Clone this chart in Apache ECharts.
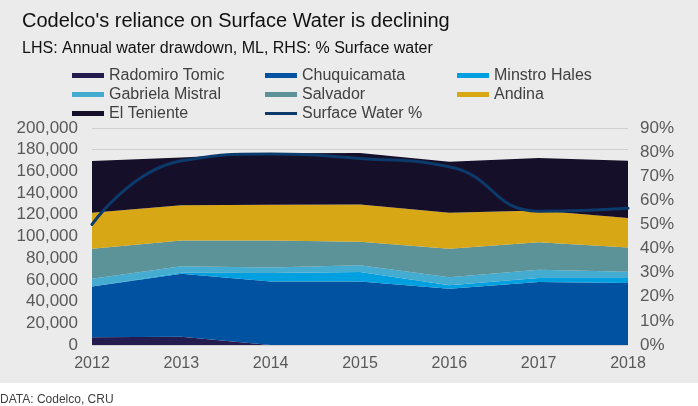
<!DOCTYPE html>
<html>
<head>
<meta charset="utf-8">
<script src="https://cdn.jsdelivr.net/npm/echarts@6/dist/echarts.min.js"></script>
<style>
  html, body { margin: 0; padding: 0; background: #fff; }
  #panel { position: absolute; left: 0; top: 0; width: 698px; height: 383px; background: #ebebeb; }
  #chart { position: absolute; left: 0; top: 0; width: 698px; height: 406px; }
</style>
</head>
<body>
<div id="panel"></div>
<div id="chart"></div>
<script>
var years = ['2012', '2013', '2014', '2015', '2016', '2017', '2018'];
var radomiroTomic = [7100, 7700, 0, 0, 0, 0, 0];
var chuquicamata = [46900, 58000, 58600, 58600, 51900, 58000, 57100];
var minstroHales = [0, 1000, 7700, 8700, 3100, 3700, 4600];
var gabrielaMistral = [7100, 5800, 5200, 6100, 7400, 7700, 5900];
var salvador = [27500, 23800, 24700, 21700, 26300, 25300, 22200];
var andina = [33300, 32400, 33000, 34300, 33300, 29300, 27200];
var elTeniente = [47800, 44200, 47500, 47500, 46900, 48400, 52800];
var surfaceWater = [50, 76.4, 79.2, 77.4, 73.9, 55.5, 56.7];

var colors = {
  rt: '#241c4e',
  chuqui: '#0152a1',
  mh: '#009fe0',
  gm: '#45acd1',
  sal: '#5b9399',
  andina: '#d8a715',
  et: '#150f2a',
  sw: '#0b3a6b'
};

// thin bar inside the 32x5 legend box (tiny corner specks keep the box size)
var lineIcon = 'path://M0,0L1,0L1,0.01ZM0,1H32V4H0ZM31,5L32,5L32,4.99Z';

function area(name, data, color) {
  return {
    name: name,
    type: 'line',
    stack: 'total',
    data: data,
    symbol: 'none',
    color: color,
    lineStyle: { width: 0 },
    areaStyle: { color: color, opacity: 1 }
  };
}

function legendCol(left, names) {
  return {
    orient: 'vertical',
    left: left,
    top: 66,
    padding: 0,
    itemGap: 0,
    itemWidth: 32,
    itemHeight: 5,
    selectedMode: false,
    textStyle: { color: '#404040', fontSize: 16, lineHeight: 19, fontFamily: 'Liberation Sans' },
    data: names.map(function (n) {
      return n === 'Surface Water %' ? { name: n, icon: lineIcon } : { name: n, icon: 'rect' };
    })
  };
}

var chart = echarts.init(document.getElementById('chart'));
chart.setOption({
  backgroundColor: 'transparent',
  textStyle: { fontFamily: 'Liberation Sans' },
  title: [
    {
      text: "Codelco's reliance on Surface Water is declining",
      left: 22, top: 11, padding: 0,
      textStyle: { fontSize: 20, fontWeight: 'normal', color: '#111', fontFamily: 'Liberation Sans' }
    },
    {
      text: 'LHS: Annual water drawdown, ML, RHS: % Surface water',
      left: 22, top: 41, padding: 0,
      textStyle: { fontSize: 16, fontWeight: 'normal', color: '#111', fontFamily: 'Liberation Sans' }
    },
    {
      text: 'DATA: Codelco, CRU',
      left: 0, top: 394, padding: 0,
      textStyle: { fontSize: 12, fontWeight: 'normal', color: '#404040', fontFamily: 'Liberation Sans' }
    }
  ],
  legend: [
    legendCol(72, ['Radomiro Tomic', 'Gabriela Mistral', 'El Teniente']),
    legendCol(265, ['Chuquicamata', 'Salvador', 'Surface Water %']),
    legendCol(457, ['Minstro Hales', 'Andina'])
  ],
  grid: { left: 92, right: 70, top: 128, bottom: 61, containLabel: false },
  xAxis: {
    type: 'category',
    data: years,
    boundaryGap: false,
    axisLine: { show: false },
    axisTick: { show: false },
    axisLabel: { color: '#595959', fontSize: 16, margin: 11 }
  },
  yAxis: [
    {
      type: 'value',
      min: 0, max: 200000, interval: 20000,
      axisLine: { show: false },
      axisTick: { show: false },
      splitLine: { lineStyle: { color: '#cfcfcf', width: 1 } },
      axisLabel: {
        color: '#595959', fontSize: 17, margin: 14,
        formatter: function (v) { return v.toLocaleString('en-US'); }
      }
    },
    {
      type: 'value',
      min: 0, max: 90, interval: 10,
      axisLine: { show: false },
      axisTick: { show: false },
      splitLine: { show: false },
      axisLabel: { color: '#595959', fontSize: 17, margin: 12, formatter: '{value}%' }
    }
  ],
  series: [
    area('Radomiro Tomic', radomiroTomic, colors.rt),
    area('Chuquicamata', chuquicamata, colors.chuqui),
    area('Minstro Hales', minstroHales, colors.mh),
    area('Gabriela Mistral', gabrielaMistral, colors.gm),
    area('Salvador', salvador, colors.sal),
    area('Andina', andina, colors.andina),
    area('El Teniente', elTeniente, colors.et),
    {
      name: 'Surface Water %',
      type: 'line',
      yAxisIndex: 1,
      data: surfaceWater,
      smooth: 0.5,
      symbol: 'none',
      color: colors.sw,
      itemStyle: { color: colors.sw },
      z: 5,
      lineStyle: { width: 3, color: colors.sw, cap: 'round' }
    }
  ]
});
</script>
</body>
</html>
